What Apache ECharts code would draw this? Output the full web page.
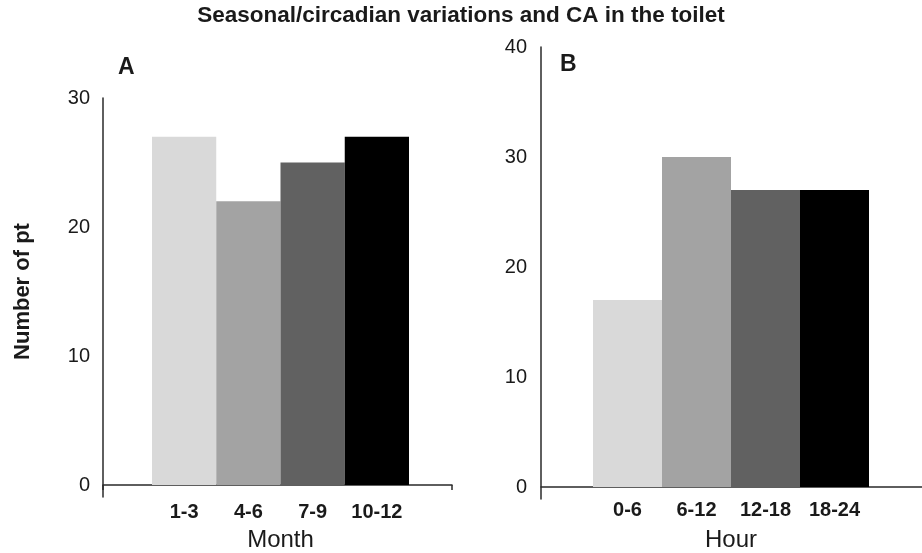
<!DOCTYPE html>
<html><head><meta charset="utf-8">
<script src="https://cdn.jsdelivr.net/npm/echarts@6/dist/echarts.min.js"></script>
<style>html,body{margin:0;padding:0;background:#fff}#c{width:922px;height:553px}</style>
</head><body><div id="c"></div>
<script>
const chartTitle = 'Seasonal/circadian variations and CA in the toilet';
const monthCategories = ['1-3', '4-6', '7-9', '10-12'];
const monthValues = [27, 22, 25, 27];
const hourCategories = ['0-6', '6-12', '12-18', '18-24'];
const hourValues = [17, 30, 27, 27];
const monthAxisMax = 30;
const hourAxisMax = 40;
const tickStep = 10;
const barColors = ['#d9d9d9', '#a3a3a3', '#616161', '#000000'];

const FONT = '"Liberation Sans", Arial, sans-serif';
const TXT = '#1a1a1a';
const LINE = { show: true, lineStyle: { color: '#2a2a2a', width: 1.5 } };
const NONE = { show: false };

function barData(vals) {
  return vals.map((v, i) => ({ value: v, itemStyle: { color: barColors[i] } }));
}
function g(o) { return Object.assign({ outerBoundsMode: 'none', containLabel: false }, o); }

const option = {
  animation: false,
  backgroundColor: '#fff',
  title: [
    { text: chartTitle, left: 'center', top: 4, padding: 0,
      textStyle: { fontFamily: FONT, fontSize: 22.5, fontWeight: 'bold', color: TXT } },
    { text: 'A', left: 118, top: 56, padding: 0,
      textStyle: { fontFamily: FONT, fontSize: 23, fontWeight: 'bold', color: TXT } },
    { text: 'B', left: 560, top: 53, padding: 0,
      textStyle: { fontFamily: FONT, fontSize: 23, fontWeight: 'bold', color: TXT } }
  ],
  grid: [
    g({ left: 103, top: 98, width: 349, height: 387 }),
    g({ left: 152, top: 98, width: 257, height: 387 }),
    g({ left: 103, top: 98, width: 10, height: 399 }),
    g({ left: 541, top: 47, width: 420, height: 440 }),
    g({ left: 593, top: 47, width: 276, height: 440 }),
    g({ left: 541, top: 47, width: 10, height: 452 })
  ],
  xAxis: [
    { gridIndex: 0, type: 'value', min: 0, max: 1, interval: 1, axisLine: LINE,
      axisTick: { show: true, length: 5, lineStyle: { color: '#2a2a2a', width: 1.5 } },
      axisLabel: NONE, splitLine: NONE },
    { gridIndex: 1, type: 'category', data: monthCategories, axisLine: NONE, axisTick: NONE,
      axisLabel: { interval: 0, margin: 17, fontFamily: FONT, fontSize: 20, fontWeight: 'bold', color: TXT },
      name: 'Month', nameLocation: 'middle', nameGap: 43,
      nameTextStyle: { fontFamily: FONT, fontSize: 24, color: TXT } },
    { gridIndex: 2, type: 'value', show: false },
    { gridIndex: 3, type: 'value', min: 0, max: 1, interval: 1, axisLine: LINE,
      axisTick: NONE, axisLabel: NONE, splitLine: NONE },
    { gridIndex: 4, type: 'category', data: hourCategories, axisLine: NONE, axisTick: NONE,
      axisLabel: { interval: 0, margin: 13, fontFamily: FONT, fontSize: 20, fontWeight: 'bold', color: TXT },
      name: 'Hour', nameLocation: 'middle', nameGap: 41,
      nameTextStyle: { fontFamily: FONT, fontSize: 24, color: TXT } },
    { gridIndex: 5, type: 'value', show: false }
  ],
  yAxis: [
    { gridIndex: 0, type: 'value', min: 0, max: monthAxisMax, interval: tickStep,
      axisLine: NONE, axisTick: NONE, splitLine: NONE,
      axisLabel: { margin: 13, fontFamily: FONT, fontSize: 20, color: TXT },
      name: 'Number of pt', nameLocation: 'middle', nameGap: 69, nameRotate: 90,
      nameTextStyle: { fontFamily: FONT, fontSize: 22, fontWeight: 'bold', color: TXT } },
    { gridIndex: 1, type: 'value', min: 0, max: monthAxisMax, interval: tickStep, show: false },
    { gridIndex: 2, type: 'value', min: 0, max: 1, axisLine: LINE, axisTick: NONE,
      axisLabel: NONE, splitLine: NONE },
    { gridIndex: 3, type: 'value', min: 0, max: hourAxisMax, interval: tickStep,
      axisLine: NONE, axisTick: NONE, splitLine: NONE,
      axisLabel: { margin: 14, fontFamily: FONT, fontSize: 20, color: TXT } },
    { gridIndex: 4, type: 'value', min: 0, max: hourAxisMax, interval: tickStep, show: false },
    { gridIndex: 5, type: 'value', min: 0, max: 1, axisLine: LINE, axisTick: NONE,
      axisLabel: NONE, splitLine: NONE }
  ],
  series: [
    { type: 'bar', xAxisIndex: 1, yAxisIndex: 1, data: barData(monthValues),
      barCategoryGap: 0, barWidth: '100%', silent: true },
    { type: 'bar', xAxisIndex: 4, yAxisIndex: 4, data: barData(hourValues),
      barCategoryGap: 0, barWidth: '100%', silent: true }
  ]
};

const chart = echarts.init(document.getElementById('c'), null, { renderer: 'canvas' });
chart.setOption(option);
</script>
</body></html>
